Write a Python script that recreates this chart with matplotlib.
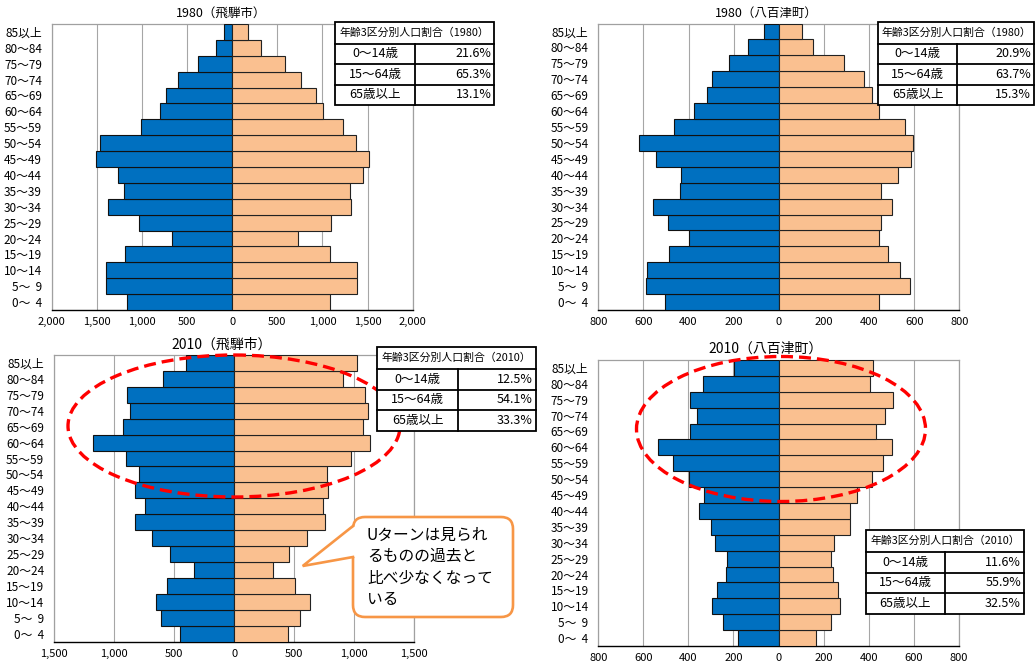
import matplotlib
matplotlib.use("Agg")
import matplotlib.pyplot as plt
from matplotlib.patches import Ellipse, FancyBboxPatch, Polygon, Rectangle
from matplotlib.ticker import FuncFormatter

plt.rcParams['font.family'] = ['Noto Sans CJK JP', 'DejaVu Sans']

W, H = 1036, 666

# age groups, bottom (0-4) to top (85+)
ages = ["0～  4", "5～  9", "10～14", "15～19", "20～24", "25～29", "30～34",
        "35～39", "40～44", "45～49", "50～54", "55～59", "60～64", "65～69",
        "70～74", "75～79", "80～84", "85以上"]

hida1980_male = [1161, 1394, 1401, 1183, 669, 1035, 1372, 1194, 1264, 1512, 1460,
                 1006, 799, 728, 606, 381, 185, 96]
hida1980_female = [1087, 1379, 1379, 1080, 728, 1091, 1312, 1305, 1446, 1516, 1372,
                   1224, 1009, 924, 758, 584, 318, 170]
yaotsu1980_male = [504, 587, 586, 485, 396, 492, 556, 439, 433, 544, 620, 464, 374,
                   318, 294, 220, 136, 67]
yaotsu1980_female = [442, 580, 535, 482, 442, 453, 500, 453, 529, 586, 597, 559, 442,
                     413, 376, 291, 152, 101]
hida2010_male = [452, 605, 654, 563, 336, 538, 688, 824, 746, 826, 790, 904, 1179,
                 929, 868, 896, 596, 405]
hida2010_female = [449, 546, 635, 507, 327, 458, 607, 760, 743, 782, 774, 973, 1131,
                   1073, 1115, 1087, 910, 1026]
yaotsu2010_male = [182, 246, 295, 271, 234, 227, 284, 299, 351, 329, 398, 469, 533,
                   395, 360, 392, 336, 197]
yaotsu2010_female = [167, 235, 271, 266, 240, 235, 247, 317, 317, 347, 413, 466, 502,
                     435, 472, 508, 404, 418]

ratio_labels = ["0～14歳", "15～64歳", "65歳以上"]
hida1980_ratio = ["21.6%", "65.3%", "13.1%"]
yaotsu1980_ratio = ["20.9%", "63.7%", "15.3%"]
hida2010_ratio = ["12.5%", "54.1%", "33.3%"]
yaotsu2010_ratio = ["11.6%", "55.9%", "32.5%"]

note = "Uターンは見られ\nるものの過去と\n比べ少なくなって\nいる"

BLUE = "#0070C0"
ORANGE = "#FAC090"

fig = plt.figure(figsize=(W / 100, H / 100), dpi=100)


def px_axes(x0, y0, x1, y1, **kw):
    return fig.add_axes([x0 / W, 1 - y1 / H, (x1 - x0) / W, (y1 - y0) / H], **kw)


def pyramid(box, male, female, lim, step, title, title_xy, title_size):
    ax = px_axes(*box)
    y = range(len(ages))
    ax.barh(y, [-m for m in male], height=1.0, color=BLUE, edgecolor="#111111",
            linewidth=0.8, zorder=3)
    ax.barh(y, female, height=1.0, color=ORANGE, edgecolor="#222222",
            linewidth=0.8, zorder=3)
    ax.set_xlim(-lim, lim)
    ax.set_ylim(-0.5, len(ages) - 0.5)
    ax.set_xticks(range(-lim, lim + 1, step))
    ax.xaxis.set_major_formatter(FuncFormatter(lambda v, p: "{:,}".format(int(abs(v)))))
    ax.set_yticks(list(y))
    ax.set_yticklabels(ages)
    ax.tick_params(length=0)
    ax.tick_params(axis="x", pad=5, labelsize=8)
    ax.tick_params(axis="y", pad=7, labelsize=8.5)
    ax.grid(axis="x", color="#A6A6A6", linewidth=0.8, zorder=0)
    for s in ["left", "top", "right"]:
        ax.spines[s].set_color("#A0A0A0")
        ax.spines[s].set_linewidth(0.9)
    ax.spines["bottom"].set_color("#000000")
    ax.spines["bottom"].set_linewidth(1.0)
    fig.text(title_xy[0] / W, 1 - title_xy[1] / H, title, ha="center", va="center",
             fontsize=title_size)
    return ax


pyramid((51.7, 24, 412.7, 310), hida1980_male, hida1980_female, 2000, 500,
        "1980（飛騨市）", (221, 13), 9)
pyramid((598.3, 23.5, 959.3, 310), yaotsu1980_male, yaotsu1980_female, 800, 200,
        "1980（八百津町）", (766, 13), 9)
pyramid((54, 355, 414.3, 641.7), hida2010_male, hida2010_female, 1500, 500,
        "2010（飛騨市）", (222, 345), 10)
pyramid((598.3, 360, 958.7, 646), yaotsu2010_male, yaotsu2010_female, 800, 200,
        "2010（八百津町）", (766, 349), 10)

# overlay in pixel coordinates for ellipses, tables and the callout
ov = fig.add_axes([0, 0, 1, 1], zorder=10)
ov.set_xlim(0, W)
ov.set_ylim(H, 0)
ov.axis("off")
ov.patch.set_alpha(0)

# red dashed ellipses (behind tables)
for cx, cy, ew, eh in [(234, 426, 332, 142), (781, 429, 289, 145)]:
    ov.add_patch(Ellipse((cx, cy), ew, eh, fill=False, edgecolor="#FF0000",
                         linewidth=2.4, linestyle=(0, (3.6, 1.8)), zorder=2))


def ratio_table(x0, y0, x1, split, year, values):
    hh, rh = 22, 20.5
    y1 = y0 + hh + 3 * rh
    ov.add_patch(Rectangle((x0, y0), x1 - x0, y1 - y0, facecolor="white",
                           edgecolor="black", linewidth=1.3, zorder=5))
    ov.text((x0 + x1) / 2, y0 + hh / 2, "年齢3区分別人口割合（" + year + "）",
            ha="center", va="center", fontsize=7.8, zorder=7)
    ov.plot([split, split], [y0 + hh, y1], color="black", lw=1.3, zorder=6)
    for i, (lab, val) in enumerate(zip(ratio_labels, values)):
        top = y0 + hh + i * rh
        ov.plot([x0, x1], [top, top], color="black", lw=1.3, zorder=6)
        ov.text((x0 + split) / 2, top + rh / 2, lab, ha="center", va="center",
                fontsize=9, zorder=7)
        ov.text(x1 - 3, top + rh / 2, val, ha="right", va="center",
                fontsize=9, zorder=7)


ratio_table(335, 21.7, 494.3, 415, "1980", hida1980_ratio)
ratio_table(878.3, 21.7, 1034, 957.3, "1980", yaotsu1980_ratio)
ratio_table(377.3, 347, 535.7, 458.3, "2010", hida2010_ratio)
ratio_table(866, 530, 1024, 945, "2010", yaotsu2010_ratio)

# callout
CO = "#F79646"
ov.add_patch(FancyBboxPatch((353, 517), 160, 100, boxstyle="round,pad=0,rounding_size=12",
                            facecolor="white", edgecolor=CO, linewidth=1.9, zorder=8))
ov.add_patch(Polygon([(355, 526), (302.7, 566), (355, 557)], closed=True,
                     facecolor="white", edgecolor="none", zorder=9))
ov.plot([353, 302.7, 353], [526, 566, 557], color=CO, lw=1.9, zorder=10,
        solid_joinstyle="miter")
ov.text(367, 527, note, ha="left", va="top", fontsize=11.3, linespacing=1.33, zorder=11)

fig.savefig("out.png", dpi=100)
